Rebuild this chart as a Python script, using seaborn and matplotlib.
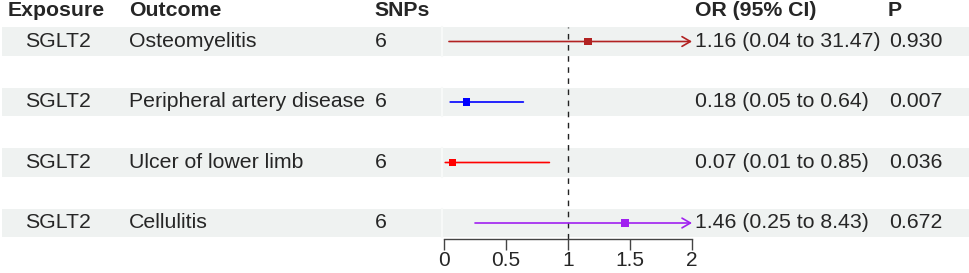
import matplotlib
matplotlib.use('Agg')
import matplotlib.pyplot as plt
import seaborn as sns
import pandas as pd

# datos del forest plot
exposure = ['SGLT2', 'SGLT2', 'SGLT2', 'SGLT2']
outcome = ['Osteomyelitis', 'Peripheral artery disease', 'Ulcer of lower limb', 'Cellulitis']
snps = [6, 6, 6, 6]
or_val = [1.16, 0.18, 0.07, 1.46]
lower = [0.04, 0.05, 0.01, 0.25]
upper = [31.47, 0.64, 0.85, 8.43]
pval = ['0.930', '0.007', '0.036', '0.672']
colores = ['#B22222', '#0000FF', '#FF0000', '#A020F0']
xticks = [0, 0.5, 1, 1.5, 2]

sns.set_style('white')
plt.rcParams['font.family'] = ['Liberation Sans', 'DejaVu Sans']

df = pd.DataFrame({'outcome': outcome, 'OR': or_val, 'low': lower, 'up': upper,
                   'fila': range(len(outcome))})

W, H = 969, 273
fig = plt.figure(figsize=(W / 100, H / 100), dpi=100)

# escala vertical comun: fila i -> pixel 41.5 + 60.5*i
def fila(px):
    return (px - 41.5) / 60.5

# eje de fondo con bandas y columnas de texto
bg = fig.add_axes([0, 0, 1, 1])
bg.set_xlim(0, W)
bg.set_ylim(fila(H), fila(0))
bg.axis('off')
for i in range(len(outcome)):
    bg.axhspan(i - 0.235, i + 0.235, xmin=0.002, xmax=1, color='#EFF2F1', lw=0)
    # separacion tenue entre celdas
    bg.plot([442, 442], [i - 0.235, i + 0.235], color='#F7F9F8', lw=1.5)

fs = 15.3
yh = fila(11)
for x, t in [(8, 'Exposure'), (129, 'Outcome'), (374, 'SNPs'), (695, 'OR (95% CI)'), (888, 'P')]:
    bg.text(x, yh, t, fontsize=fs, fontweight='bold', va='center', ha='left')
for i in range(len(outcome)):
    bg.text(25, i, exposure[i], fontsize=fs, va='center')
    bg.text(129, i, outcome[i], fontsize=fs, va='center')
    bg.text(375, i, str(snps[i]), fontsize=fs, va='center')
    bg.text(695, i, f'{or_val[i]:.2f} ({lower[i]:.2f} to {upper[i]:.2f})', fontsize=fs, va='center')
    bg.text(889, i, pval[i], fontsize=fs, va='center')

# eje del forest plot
x0, x1 = 444, 692
ytop, ybot = 27, 239
ax = fig.add_axes([x0 / W, 1 - ybot / H, (x1 - x0) / W, (ybot - ytop) / H])
ax.patch.set_alpha(0)
ax.set_xlim(0, 2)
ax.set_ylim(fila(ybot), fila(ytop))

ax.axvline(1, color='#222222', lw=1, ls=(0, (4, 4)))

for i, r in df.iterrows():
    fin = min(r['up'], 2)
    estilo = '->,head_length=0.6,head_width=0.35' if r['up'] > 2 else '-'
    ax.annotate('', xy=(fin, r['fila']), xytext=(r['low'], r['fila']),
                arrowprops=dict(arrowstyle=estilo, color=colores[i], lw=1.2,
                                shrinkA=0, shrinkB=0))

sns.scatterplot(data=df, x='OR', y='fila', hue='outcome', palette=colores,
                marker='s', s=30, linewidth=0, legend=False, ax=ax, zorder=5)

for s in ['top', 'right', 'left']:
    ax.spines[s].set_visible(False)
ax.spines['bottom'].set_color('#444444')
ax.spines['bottom'].set_linewidth(1)
ax.set_yticks([])
ax.set_xticks(xticks)
ax.set_xticklabels(['0', '0.5', '1', '1.5', '2'])
ax.tick_params(axis='x', length=8, width=1, color='#444444', labelsize=15, pad=1, bottom=True)
ax.set_xlabel('')
ax.set_ylabel('')

fig.savefig('out.png', dpi=100)
